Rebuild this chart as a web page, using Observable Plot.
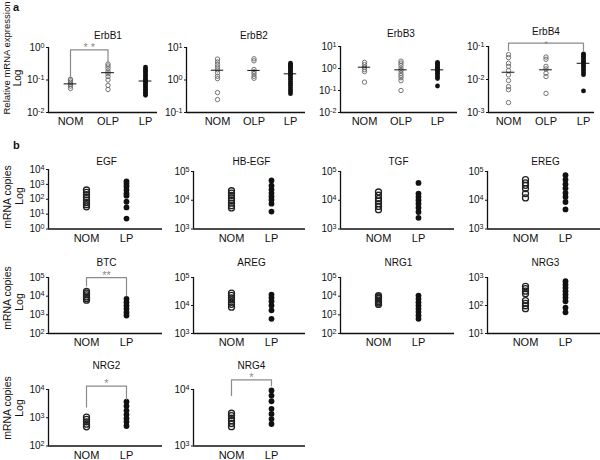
<!DOCTYPE html>
<html><head><meta charset="utf-8">
<script src="https://cdn.jsdelivr.net/npm/d3@7"></script>
<script src="https://cdn.jsdelivr.net/npm/@observablehq/plot@0.6"></script>
<style>
body{margin:0;background:#fff;}
#chart{position:relative;width:600px;height:460px;font-family:"Liberation Sans",Arial,sans-serif;overflow:hidden;background:#fff;color:#111;}
#chart svg{position:absolute;overflow:visible;}
.lab{position:absolute;white-space:nowrap;transform:translate(-50%,-50%) rotate(-90deg);line-height:1;}
.tag{position:absolute;font-weight:bold;font-size:11px;line-height:1;}
</style></head><body><div id="chart"></div>
<script>
// ---------- data ----------
const groupsA = ["NOM", "OLP", "LP"];
const groupsB = ["NOM", "LP"];

const erbb1NOM = [0.105, 0.095, 0.085, 0.075, 0.065, 0.055];
const erbb1OLP = [0.31, 0.27, 0.226, 0.187, 0.155, 0.128, 0.10, 0.068, 0.051];
const erbb1LP  = [0.25, 0.22, 0.2, 0.18, 0.16, 0.14, 0.125, 0.11, 0.1, 0.095, 0.09, 0.08, 0.072, 0.065, 0.058, 0.052, 0.047, 0.042, 0.038, 0.034];
const erbb1Median = [0.076, 0.168, 0.093];

const erbb2NOM = [4.4, 3.6, 3.0, 2.5, 2.05, 1.67, 1.3, 1.1, 0.41, 0.25];
const erbb2OLP = [4.5, 3.9, 2.1, 1.8, 1.55, 1.3, 1.13];
const erbb2LP  = [3.3, 3.0, 2.8, 2.6, 2.4, 2.2, 2.0, 1.8, 1.65, 1.5, 1.35, 1.2, 1.05, 0.9, 0.78, 0.68, 0.58, 0.5, 0.44, 0.38];
const erbb2Median = [2.0, 1.97, 1.55];

const erbb3NOM = [1.9, 1.5, 1.15, 0.9, 0.73, 0.24];
const erbb3OLP = [2.15, 1.75, 1.37, 1.03, 0.81, 0.61, 0.48, 0.38, 0.28, 0.1];
const erbb3LP  = [1.9, 1.7, 1.5, 1.3, 1.15, 1.0, 0.9, 0.8, 0.7, 0.6, 0.5, 0.42, 0.35, 0.16];
const erbb3Median = [1.15, 0.87, 0.87];

const erbb4NOM = [0.057, 0.046, 0.031, 0.025, 0.0187, 0.0138, 0.0093, 0.0061, 0.0049, 0.002];
const erbb4OLP = [0.048, 0.041, 0.025, 0.021, 0.0155, 0.0123, 0.0038];
const erbb4LP  = [0.06, 0.055, 0.05, 0.045, 0.04, 0.036, 0.032, 0.028, 0.025, 0.022, 0.019, 0.016, 0.014, 0.0045];
const erbb4Median = [0.0166, 0.0197, 0.031];

const egfNOM = [420, 290, 200, 132, 87, 60, 43, 31];
const egfLP  = [1600, 1070, 710, 420, 245, 174, 68, 28, 5];
const hbegfNOM = [21400, 17800, 14800, 12000, 9800, 7900, 6500, 5400];
const hbegfLP  = [49000, 32000, 23500, 17800, 13500, 10500, 7600, 4050];
const tgfNOM = [19400, 14900, 11300, 9300, 7600, 6100, 4700];
const tgfLP  = [40000, 17000, 13000, 10000, 7600, 5500, 3900, 2450];
const eregNOM = [52000, 40000, 33000, 25500, 17000, 12000];
const eregLP  = [74000, 52000, 36000, 26000, 18000, 13000, 8700, 4800];
const btcNOM = [17800, 14500, 11700, 9100, 7400, 6100];
const btcLP  = [7100, 4700, 3100, 2050, 1350, 910];
const aregNOM = [27500, 23000, 18800, 16000, 13000, 11000, 8700];
const aregLP  = [24500, 19000, 14300, 10000, 6700, 3350];
const nrg1NOM = [10500, 9000, 7500, 6200, 5200, 4300, 3600];
const nrg1LP  = [10700, 7200, 4700, 3150, 2100, 1400, 910, 610];
const nrg3NOM = [480, 400, 325, 265, 150, 120, 98, 77];
const nrg3LP  = [740, 560, 430, 325, 245, 190, 142, 83, 57];
const nrg2NOM = [1050, 870, 720, 590, 480];
const nrg2LP  = [3700, 2600, 1800, 1300, 950, 720, 510];
const nrg4NOM = [3800, 3450, 3100, 2800, 2500, 2200];
const nrg4LP  = [9600, 7800, 6200, 4550, 3700, 3000, 2450];

// significance brackets: [from group, to group, top value, left leg end, right leg end, label]
const erbb1Sig = [0, 1, 0.85, 0.12, 0.35, "* *"];
const erbb4Sig = [0, 2, 0.126, 0.076, 0.076, "*"];
const btcSig   = [0, 1, 98000, 35000, 10500, "**"];
const nrg2Sig  = [0, 1, 13200, 2400, 4550, "*"];
const nrg4Sig  = [0, 1, 14800, 7800, 11700, "*"];

// ---------- drawing ----------
const SUP = {"-":"\u207B","0":"\u2070","1":"\u00B9","2":"\u00B2","3":"\u00B3","4":"\u2074","5":"\u2075","6":"\u2076","7":"\u2077","8":"\u2078","9":"\u2079"};
const UNSUP = Object.fromEntries(Object.entries(SUP).map(([k, v]) => [v, k]));
const fmt = v => "10" + String(Math.round(Math.log10(v))).split("").map(c => SUP[c]).join("");
const chart = document.getElementById("chart");
const NS = "http://www.w3.org/2000/svg";

function superscripts(svg) {
  svg.querySelectorAll("g[aria-label='y-axis tick label'] text").forEach(t => {
    const s = t.textContent;
    if (!s.startsWith("10")) return;
    const exp = s.slice(2).split("").map(c => UNSUP[c] ?? c).join("");
    t.textContent = "";
    const base = document.createElementNS(NS, "tspan");
    base.textContent = "10";
    const sup = document.createElementNS(NS, "tspan");
    sup.textContent = exp;
    sup.setAttribute("dy", "-0.42em");
    sup.setAttribute("font-size", "0.72em");
    t.appendChild(base); t.appendChild(sup);
  });
}

function panel(p) {
  const ML = 40, MR = 10, MT = 40, MB = 24;
  const W = p.right - p.left, H = p.bottom - p.top;
  const n = p.groups.length;
  const s = (p.p1 - p.p0) / (n - 1);
  const xdom = [-p.p0 / s, (W - p.p0) / s];
  const lo = Math.round(Math.log10(p.domain[0])), hi = Math.round(Math.log10(p.domain[1]));
  const ticks = d3.range(lo, hi + 1).map(e => Math.pow(10, e));
  const open = [], filled = [];
  p.groups.forEach((g, i) => p.values[i].forEach(v => (g === "LP" ? filled : open).push({x: i, y: v})));
  const marks = [
    Plot.axisY({ticks, tickFormat: fmt, tickSize: 2, tickPadding: 2, fontSize: 10, label: null}),
    Plot.axisX({ticks: d3.range(n), tickFormat: i => p.groups[i], tickSize: 0, tickPadding: 5, fontSize: 11, label: null}),
    Plot.ruleX([xdom[0]], {stroke: "#111", strokeWidth: 1.3}),
    Plot.ruleY([p.domain[0]], {stroke: "#111", strokeWidth: 1.3}),
    Plot.dot(open, {x: "x", y: "y", r: p.r, fill: "none", stroke: p.openStroke, strokeWidth: p.sw}),
    Plot.dot(filled, {x: "x", y: "y", r: p.rf, fill: "#111", stroke: "none"}),
    Plot.text([p.title], {x: [(n - 1) / 2], frameAnchor: "top", lineAnchor: "middle", dy: -p.titleOff, text: d => d, fontSize: 10, fill: "#111"})
  ];
  if (p.median) {
    marks.push(Plot.ruleY(p.median.map((m, i) => ({x: i, y: m})), {y: "y", x1: d => d.x - 0.17, x2: d => d.x + 0.17, stroke: "#111", strokeWidth: 1}));
  }
  if (p.sig) {
    const [a, b, top, la, lb, label] = p.sig;
    marks.push(Plot.line([{x: a, y: la}, {x: a, y: top}, {x: b, y: top}, {x: b, y: lb}], {x: "x", y: "y", stroke: "#8a8a8a", strokeWidth: 1.2}));
    marks.push(Plot.text([label], {x: [(a + b) / 2], y: [top], text: d => d, lineAnchor: "bottom", dy: p.starDy ?? 1, fontSize: p.starSize ?? 11, fill: "#8a8a8a"}));
  }
  const svg = Plot.plot({
    width: ML + W + MR, height: MT + H + MB,
    marginLeft: ML, marginRight: MR, marginTop: MT, marginBottom: MB,
    style: {background: "none", fontFamily: "'Liberation Sans', Arial, sans-serif", color: "#111", overflow: "visible"},
    x: {type: "linear", domain: xdom},
    y: {type: "log", domain: p.domain},
    marks
  });
  superscripts(svg);
  svg.style.left = (p.left - ML) + "px";
  svg.style.top = (p.top - MT) + "px";
  chart.appendChild(svg);
}

const A = {groups: groupsA, r: 2.2, rf: 2.4, openStroke: "#666", sw: 0.9, top: 47, bottom: 112, titleOff: 12};
panel({...A, title: "ErbB1", left: 48, right: 157, p0: 22, p1: 97, domain: [1e-2, 1e0], values: [erbb1NOM, erbb1OLP, erbb1LP], median: erbb1Median, sig: erbb1Sig});
panel({...A, title: "ErbB2", left: 186, right: 305, p0: 31, p1: 104, domain: [1e-1, 1e1], values: [erbb2NOM, erbb2OLP, erbb2LP], median: erbb2Median});
panel({...A, title: "ErbB3", left: 340, right: 457, p0: 24, p1: 97, top: 46, titleOff: 13, domain: [1e-2, 1e1], values: [erbb3NOM, erbb3OLP, erbb3LP], median: erbb3Median});
panel({...A, title: "ErbB4", left: 488, right: 594, p0: 20, p1: 95, top: 46, titleOff: 14.5, starDy: 3.5, starSize: 9.5, domain: [1e-3, 1e-1], values: [erbb4NOM, erbb4OLP, erbb4LP], median: erbb4Median, sig: erbb4Sig});

const B = {groups: groupsB, r: 3.0, rf: 2.9, openStroke: "#222", sw: 1.3, p0: 38, p1: 78};
const B1 = {...B, top: 171, bottom: 228.5, titleOff: 10};
panel({...B1, title: "EGF", left: 48, right: 162, top: 169, titleOff: 8, domain: [1e0, 1e4], values: [egfNOM, egfLP]});
panel({...B1, title: "HB-EGF", left: 193, right: 305, domain: [1e3, 1e5], values: [hbegfNOM, hbegfLP]});
panel({...B1, title: "TGF", left: 340, right: 454, domain: [1e3, 1e5], values: [tgfNOM, tgfLP]});
panel({...B1, title: "EREG", left: 487, right: 600, domain: [1e3, 1e5], values: [eregNOM, eregLP]});

const B2 = {...B, top: 277, bottom: 333, titleOff: 15};
panel({...B2, title: "BTC", left: 48, right: 162, domain: [1e2, 1e5], values: [btcNOM, btcLP], sig: btcSig});
panel({...B2, title: "AREG", left: 193, right: 305, domain: [1e3, 1e5], values: [aregNOM, aregLP]});
panel({...B2, title: "NRG1", left: 340, right: 454, domain: [1e2, 1e5], values: [nrg1NOM, nrg1LP]});
panel({...B2, title: "NRG3", left: 487, right: 600, domain: [1e1, 1e3], values: [nrg3NOM, nrg3LP]});

const B3 = {...B, top: 388.5, bottom: 445, titleOff: 23.5};
panel({...B3, title: "NRG2", left: 48, right: 162, domain: [1e2, 1e4], values: [nrg2NOM, nrg2LP], sig: nrg2Sig});
panel({...B3, title: "NRG4", left: 193, right: 305, domain: [1e3, 1e4], values: [nrg4NOM, nrg4LP], sig: nrg4Sig});

// ---------- labels ----------
function label(text, x, y, size, cls) {
  const d = document.createElement("div");
  d.className = cls || "lab";
  d.textContent = text;
  d.style.left = x + "px"; d.style.top = y + "px";
  if (size) d.style.fontSize = size + "px";
  chart.appendChild(d);
}
label("a", 13, 2, null, "tag");
label("b", 13, 140, null, "tag");
label("Relative mRNA expression", 7, 58, 9.5);
label("Log", 18, 78, 10);
[[197, 196], [298, 302], [408, 408]].forEach(([c1, c2]) => {
  label("mRNA copies", 7, c1, 10.5);
  label("Log", 19, c2, 10.5);
});
</script></body></html>
